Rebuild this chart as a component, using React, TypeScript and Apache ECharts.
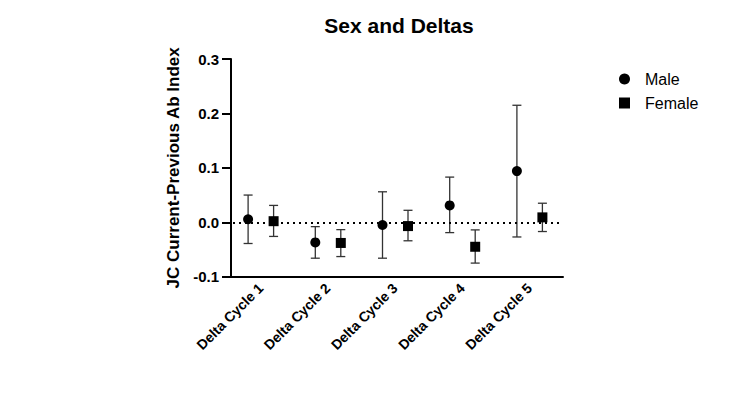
import React, { useEffect, useRef } from "react";
import * as echarts from "echarts";

const categories = ["Delta Cycle 1", "Delta Cycle 2", "Delta Cycle 3", "Delta Cycle 4", "Delta Cycle 5"];
const maleMean = [0.0055, -0.037, -0.005, 0.031, 0.094];
const maleLow = [-0.039, -0.066, -0.066, -0.019, -0.027];
const maleHigh = [0.050, -0.008, 0.056, 0.083, 0.215];
const femaleMean = [0.002, -0.038, -0.007, -0.045, 0.009];
const femaleLow = [-0.026, -0.063, -0.034, -0.075, -0.017];
const femaleHigh = [0.031, -0.0135, 0.022, -0.014, 0.035];

const FONT = "'Liberation Sans', Arial, sans-serif";
const MALE_OFF = -12.5;
const FEMALE_OFF = 13;

function errorBars(name: string, low: number[], high: number[], off: number) {
  return {
    type: "custom",
    name: name + "-err",
    silent: true,
    z: 3,
    data: categories.map((_, i) => [i, low[i], high[i]]),
    renderItem: (params: any, api: any) => {
      const i = api.value(0);
      const lo = api.coord([i, api.value(1)]);
      const hi = api.coord([i, api.value(2)]);
      const x = lo[0] + off;
      const cap = 4.5;
      const style = { stroke: "#333", lineWidth: 1.3, fill: "none" };
      return {
        type: "group",
        children: [
          { type: "line", shape: { x1: x, y1: hi[1], x2: x, y2: lo[1] }, style },
          { type: "line", shape: { x1: x - cap, y1: hi[1], x2: x + cap, y2: hi[1] }, style },
          { type: "line", shape: { x1: x - cap, y1: lo[1], x2: x + cap, y2: lo[1] }, style },
        ],
      };
    },
  };
}

export default function App() {
  const ref = useRef<HTMLDivElement>(null);
  useEffect(() => {
    const chart = echarts.init(ref.current!, null, { renderer: "svg" });
    chart.setOption({
      animation: false,
      backgroundColor: "#fff",
      title: {
        text: "Sex and Deltas",
        left: 394,
        top: 10,
        textAlign: "center",
        textStyle: { fontFamily: FONT, fontSize: 21, fontWeight: "bold", color: "#000" },
      },
      legend: {
        orient: "vertical",
        left: 614,
        top: 66,
        itemGap: 8,
        itemWidth: 11,
        itemHeight: 11,
        textStyle: { fontFamily: FONT, fontSize: 16, color: "#000", padding: [0, 0, 0, 10] },
        data: [
          { name: "Male", icon: "circle" },
          { name: "Female", icon: "rect" },
        ],
      },
      grid: { left: 227, right: 187, top: 59, bottom: 117.3 },
      xAxis: {
        type: "category",
        data: categories,
        boundaryGap: true,
        axisLine: { onZero: false, lineStyle: { color: "#000", width: 2 } },
        axisTick: { alignWithLabel: true, length: 7, lineStyle: { color: "#000", width: 2 } },
        axisLabel: {
          rotate: 45,
          fontFamily: FONT,
          fontSize: 14,
          fontWeight: "bold",
          color: "#000",
          margin: 9,
        },
      },
      yAxis: {
        type: "value",
        min: -0.1,
        max: 0.3,
        interval: 0.1,
        offset: -4,
        name: "JC Current-Previous Ab Index",
        nameLocation: "middle",
        nameGap: 49,
        nameTextStyle: { fontFamily: FONT, fontSize: 17, fontWeight: "bold", color: "#000" },
        axisLine: { show: true, lineStyle: { color: "#000", width: 2 } },
        axisTick: { show: true, length: 9, lineStyle: { color: "#000", width: 2 } },
        axisLabel: {
          fontFamily: FONT,
          fontSize: 15,
          fontWeight: "bold",
          color: "#000",
          margin: 12,
          formatter: (v: number) => (Math.abs(v) < 1e-9 ? "0.0" : v.toFixed(1)),
        },
        splitLine: { show: false },
      },
      series: [
        errorBars("Male", maleLow, maleHigh, MALE_OFF),
        errorBars("Female", femaleLow, femaleHigh, FEMALE_OFF),
        {
          type: "scatter",
          name: "Male",
          symbol: "circle",
          symbolSize: 10,
          symbolOffset: [MALE_OFF, 0],
          itemStyle: { color: "#000", opacity: 1 },
          z: 5,
          data: maleMean,
          markLine: {
            silent: true,
            symbol: "none",
            label: { show: false },
            lineStyle: { type: [2, 4], color: "#000", width: 2 },
            data: [{ yAxis: 0 }],
          },
        },
        {
          type: "scatter",
          name: "Female",
          symbol: "rect",
          symbolSize: 10,
          symbolOffset: [FEMALE_OFF, 0],
          itemStyle: { color: "#000", opacity: 1 },
          z: 5,
          data: femaleMean,
        },
      ],
    });
    return () => chart.dispose();
  }, []);
  return <div ref={ref} style={{ width: 750, height: 394, margin: -8 }} />;
}
